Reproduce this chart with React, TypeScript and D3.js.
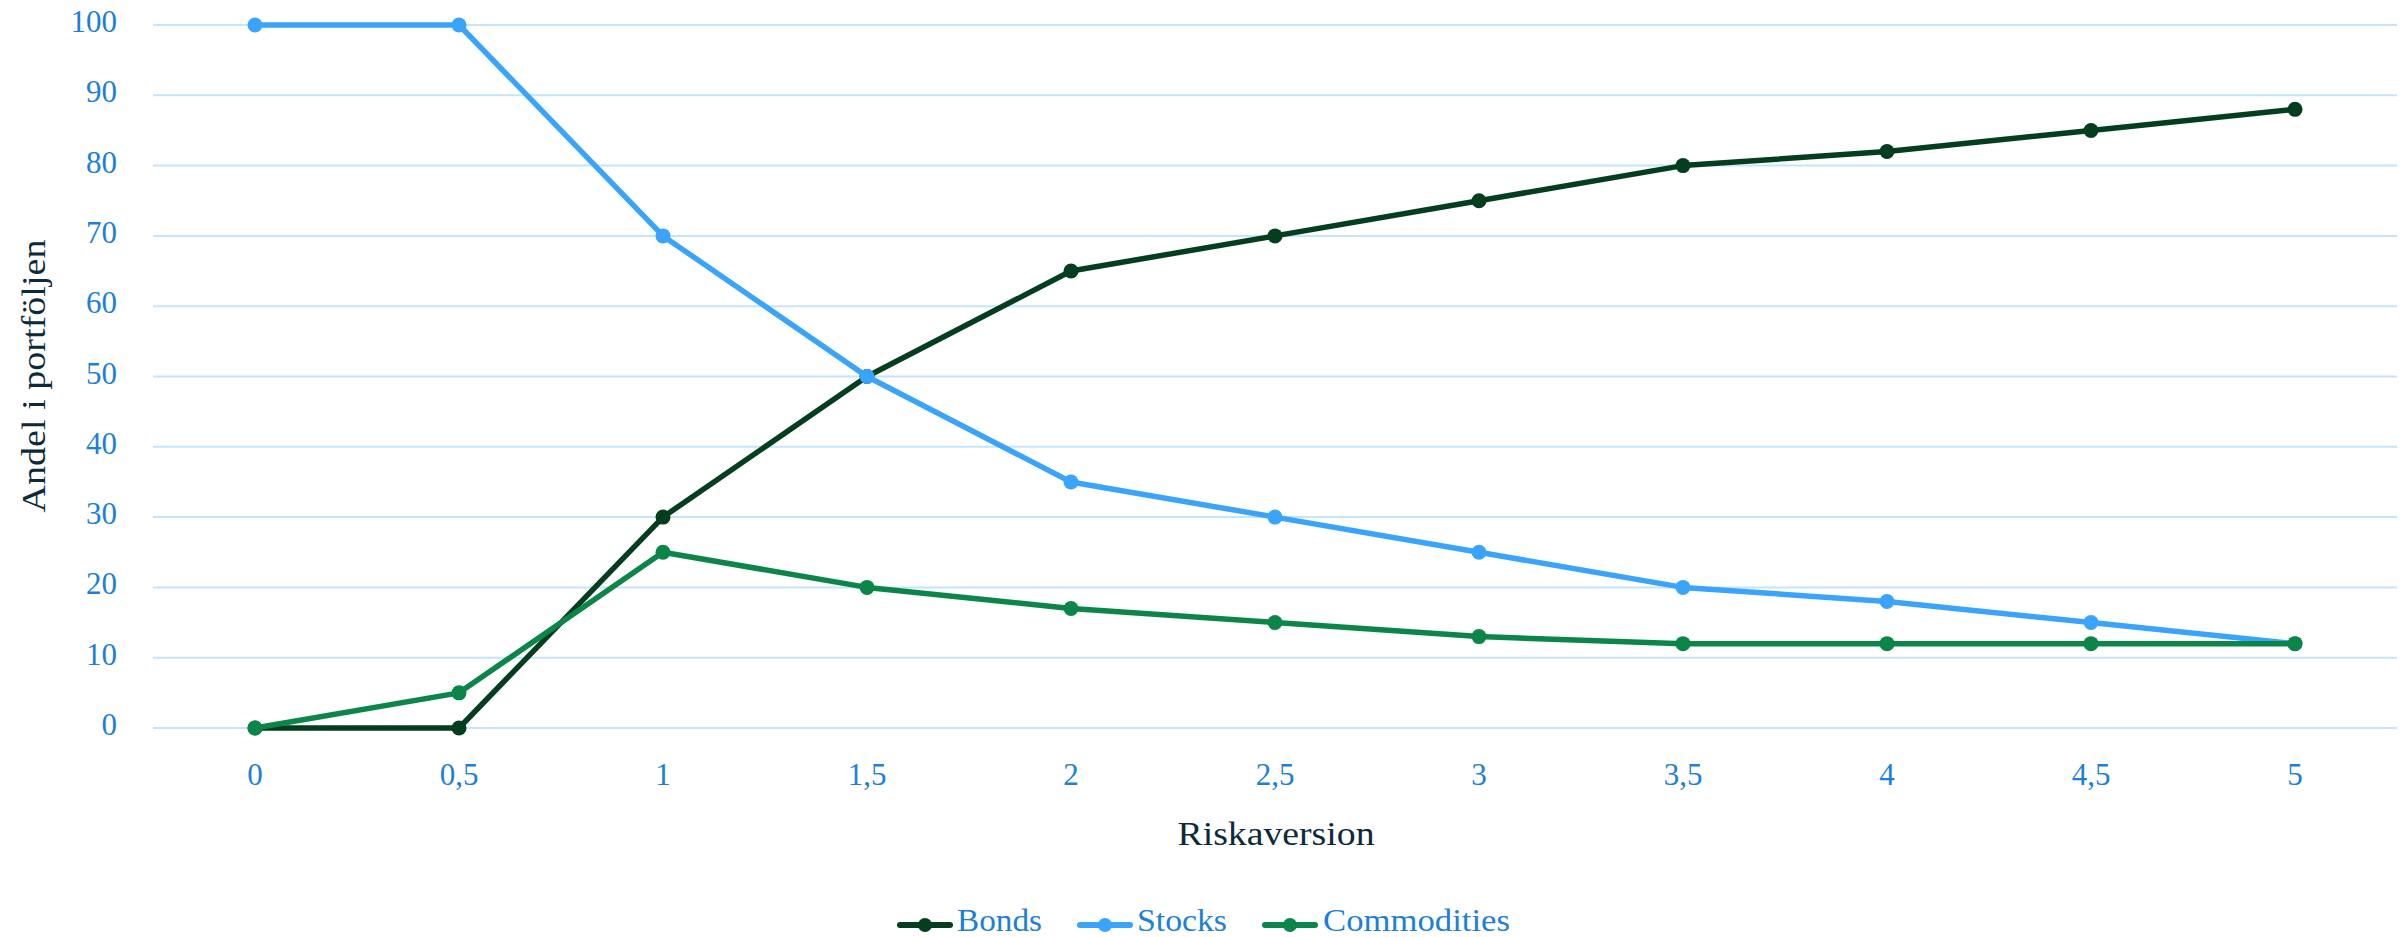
import React from "react";
import * as d3 from "d3";

const categories = ["0", "0,5", "1", "1,5", "2", "2,5", "3", "3,5", "4", "4,5", "5"];
const bonds = [0, 0, 30, 50, 65, 70, 75, 80, 82, 85, 88];
const stocks = [100, 100, 70, 50, 35, 30, 25, 20, 18, 15, 12];
const commodities = [0, 5, 25, 20, 17, 15, 13, 12, 12, 12, 12];
const yTicks = [0, 10, 20, 30, 40, 50, 60, 70, 80, 90, 100];

const seriesList = [
  { name: "Bonds", values: bonds, color: "#053d1f" },
  { name: "Stocks", values: stocks, color: "#3aa4fb" },
  { name: "Commodities", values: commodities, color: "#0b8548" },
];

const W = 2405;
const H = 937;
const plot = { left: 153, right: 2397, top: 25, bottom: 728 };
const FONT = "'Liberation Serif', 'DejaVu Serif', serif";
const tickColor = "#1a80d8";
const titleColor = "#0d2a3a";

export default function App() {
  const x = d3
    .scaleBand<string>()
    .domain(categories)
    .range([plot.left, plot.right]);
  const cx = (c: string) => (x(c) ?? 0) + x.bandwidth() / 2;
  const y = d3.scaleLinear().domain([0, 100]).range([plot.bottom, plot.top]);

  const line = d3
    .line<number>()
    .x((_, i) => cx(categories[i]))
    .y((v) => y(v));

  // legend swatch start, text start, text width
  const legendItems = [
    { x0: 897, tx: 957, tw: 85 },
    { x0: 1077, tx: 1137, tw: 90 },
    { x0: 1262, tx: 1323, tw: 187 },
  ];
  const legendY = 925;

  return (
    <svg
      width={W}
      height={H}
      style={{ position: "absolute", left: 0, top: 0, background: "#fff" }}
      fontFamily={FONT}
    >
      {yTicks.map((t) => (
        <g key={t}>
          <line
            x1={plot.left}
            x2={plot.right}
            y1={y(t)}
            y2={y(t)}
            stroke="#c6e4fb"
            strokeWidth={2}
          />
          <text
            x={117}
            y={y(t) + 7}
            textAnchor="end"
            fontSize={31}
            fill={tickColor}
          >
            {t}
          </text>
        </g>
      ))}
      {categories.map((c) => (
        <text
          key={c}
          x={cx(c)}
          y={785}
          textAnchor="middle"
          fontSize={31}
          fill={tickColor}
        >
          {c}
        </text>
      ))}
      <text
        x={1276}
        y={845}
        textAnchor="middle"
        fontSize={34}
        textLength={197}
        lengthAdjust="spacingAndGlyphs"
        fill={titleColor}
      >
        Riskaversion
      </text>
      <text
        transform={`translate(45,376) rotate(-90)`}
        textAnchor="middle"
        fontSize={34}
        textLength={273}
        lengthAdjust="spacingAndGlyphs"
        fill={titleColor}
      >
        Andel i portföljen
      </text>
      {seriesList.map((s) => (
        <g key={s.name}>
          <path
            d={line(s.values) ?? ""}
            fill="none"
            stroke={s.color}
            strokeWidth={5.5}
            strokeLinejoin="round"
          />
          {s.values.map((v, i) => (
            <circle key={i} cx={cx(categories[i])} cy={y(v)} r={7.5} fill={s.color} />
          ))}
        </g>
      ))}
      {seriesList.map((s, i) => {
        const it = legendItems[i];
        return (
          <g key={s.name}>
            <line
              x1={it.x0 + 3}
              x2={it.x0 + 53}
              y1={legendY}
              y2={legendY}
              stroke={s.color}
              strokeWidth={6}
              strokeLinecap="round"
            />
            <circle cx={it.x0 + 28} cy={legendY} r={7} fill={s.color} />
            <text
              x={it.tx}
              y={931}
              fontSize={32}
              textLength={it.tw}
              lengthAdjust="spacingAndGlyphs"
              fill={tickColor}
            >
              {s.name}
            </text>
          </g>
        );
      })}
    </svg>
  );
}
